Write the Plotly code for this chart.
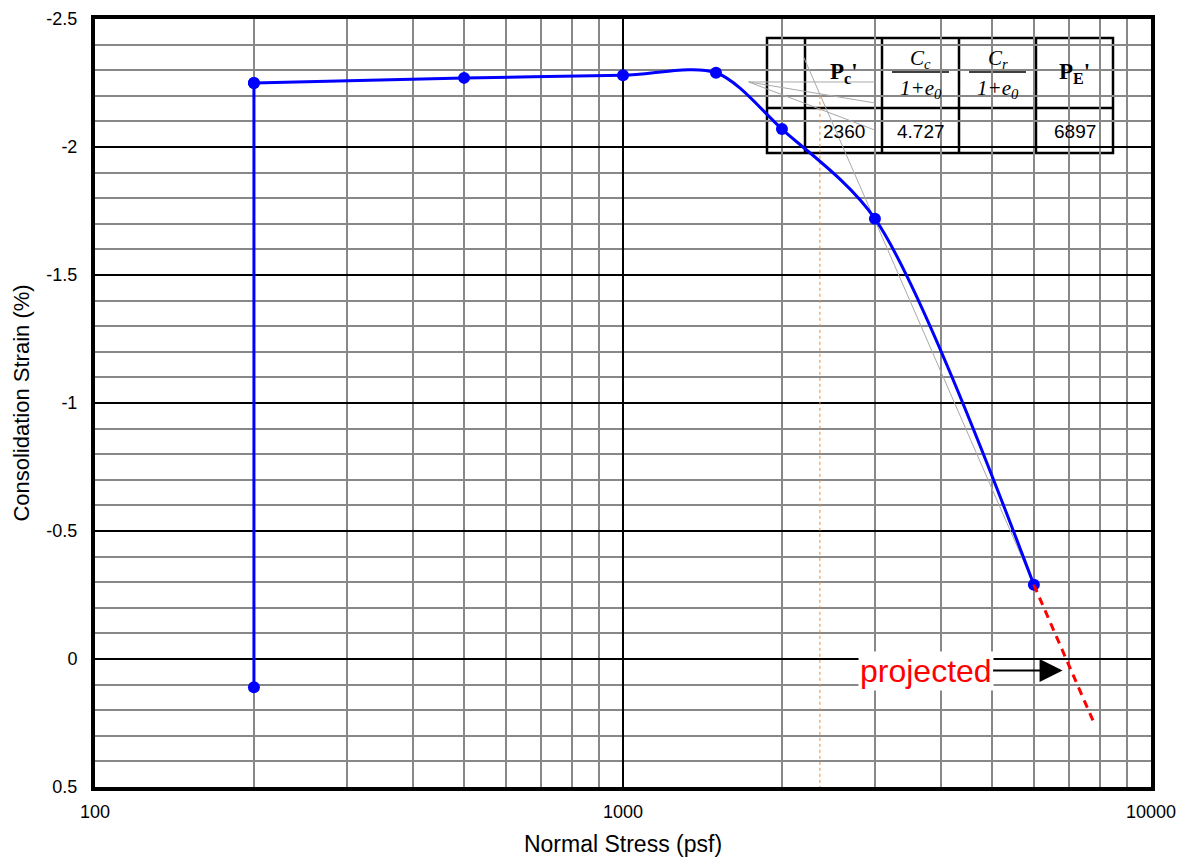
import math
import plotly.graph_objects as go

# Consolidation test readings: normal stress (psf) vs. consolidation strain (%)
stress = [200, 200, 500, 1000, 1500, 2000, 3000, 6000]
strain = [0.11, -2.25, -2.27, -2.28, -2.29, -2.07, -1.72, -0.29]

# Casagrande construction lines
constr_origin = (1730, -2.254)
constr_end_x = 3000
constr_end_y = [-2.254, -2.172, -2.066]   # horizontal, bisector, tangent
virgin_x = [2200, 6000]
virgin_y = [-2.35, -0.29]

# Results
pc_value = 2360
pc_line_y = [-2.20, 0.5]
cc_ratio = "4.727"
cr_ratio = ""
pe_value = 6897

# Projected virgin line past the last reading
proj_x = [6000, 6897, 7800]
proj_y = [-0.29, 0.0, 0.25]

x_ticks = [100, 1000, 10000]
x_ticktext = ["100", "1000", "10000"]
y_ticks = [-2.5, -2.0, -1.5, -1.0, -0.5, 0.0, 0.5]
y_ticktext = ["-2.5", "-2", "-1.5", "-1", "-0.5", "0", "0.5"]

FONT = "Liberation Sans, Arial, sans-serif"
SERIF = "Liberation Serif, Times New Roman, serif"

W, H = 1188, 861
ML, MR, MT, MB = 95, 37, 19, 74
PW, PH = W - ML - MR, H - MT - MB


def px(xp):
    return (xp - ML) / PW


def py(yp):
    return (H - MB - yp) / PH


fig = go.Figure()

# construction lines (thin grey)
for ye in constr_end_y:
    fig.add_trace(go.Scatter(x=[constr_origin[0], constr_end_x], y=[constr_origin[1], ye],
                             mode="lines", line=dict(color="#a8a8a8", width=1),
                             hoverinfo="skip", showlegend=False))
fig.add_trace(go.Scatter(x=virgin_x, y=virgin_y, mode="lines",
                         line=dict(color="#a8a8a8", width=1),
                         hoverinfo="skip", showlegend=False))

# preconsolidation pressure marker line
fig.add_trace(go.Scatter(x=[pc_value, pc_value], y=pc_line_y, mode="lines",
                         line=dict(color="#f08a30", width=1, dash="dot"),
                         hoverinfo="skip", showlegend=False))

# measured curve: initial vertical leg, then smooth curve
fig.add_trace(go.Scatter(x=stress[:2], y=strain[:2], mode="lines+markers",
                         line=dict(color="#0000ff", width=3),
                         marker=dict(color="#0000ff", size=12),
                         showlegend=False))
fig.add_trace(go.Scatter(x=stress[1:], y=strain[1:], mode="lines+markers",
                         line=dict(color="#0000ff", width=3, shape="spline", smoothing=0.85),
                         marker=dict(color="#0000ff", size=12),
                         showlegend=False))

# projected extension
fig.add_trace(go.Scatter(x=proj_x, y=proj_y, mode="lines",
                         line=dict(color="#ff0000", width=3, dash="8px,6px"),
                         hoverinfo="skip", showlegend=False))

# results table
col_px = [767, 805, 882, 959, 1036, 1113]
row_px = [38, 108, 153]
shapes = [dict(type="rect", xref="paper", yref="paper",
               x0=px(col_px[0]), x1=px(col_px[-1]), y0=py(row_px[-1]), y1=py(row_px[0]),
               fillcolor="white", line=dict(color="black", width=2.5), layer="between")]
for c in col_px[1:-1]:
    shapes.append(dict(type="line", xref="paper", yref="paper",
                       x0=px(c), x1=px(c), y0=py(row_px[-1]), y1=py(row_px[0]),
                       line=dict(color="black", width=2.5), layer="between"))
shapes.append(dict(type="line", xref="paper", yref="paper",
                   x0=px(col_px[0]), x1=px(col_px[-1]), y0=py(row_px[1]), y1=py(row_px[1]),
                   line=dict(color="black", width=2.5), layer="between"))
# fraction bars
for c0, c1 in [(col_px[2], col_px[3]), (col_px[3], col_px[4])]:
    shapes.append(dict(type="line", xref="paper", yref="paper",
                       x0=px(c0 + 10), x1=px(c1 - 10), y0=py(72), y1=py(72),
                       line=dict(color="black", width=1.5), layer="between"))

annotations = []


def cell_text(text, xc, yc, size, family, bold=False):
    annotations.append(dict(text=f"<b>{text}</b>" if bold else text,
                            xref="paper", yref="paper", x=px(xc), y=py(yc),
                            xanchor="center", yanchor="middle", showarrow=False,
                            font=dict(family=family, size=size, color="black")))


def mid(i):
    return (col_px[i] + col_px[i + 1]) / 2


cell_text("P<sub>c</sub>'", mid(1), 73, 23, SERIF, bold=True)
cell_text("<i>C<sub>c</sub></i>", mid(2), 59, 21, SERIF)
cell_text("<i>1+e<sub>0</sub></i>", mid(2), 89, 21, SERIF)
cell_text("<i>C<sub>r</sub></i>", mid(3), 59, 21, SERIF)
cell_text("<i>1+e<sub>0</sub></i>", mid(3), 89, 21, SERIF)
cell_text("P<sub>E</sub>'", mid(4), 73, 23, SERIF, bold=True)
cell_text(str(pc_value), mid(1), 131, 19, FONT)
cell_text(cc_ratio, mid(2), 131, 19, FONT)
cell_text(cr_ratio, mid(3), 131, 19, FONT)
cell_text(str(pe_value), mid(4), 131, 19, FONT)

# "projected" callout
annotations.append(dict(text="projected", x=math.log10(6800), y=0.045, xref="x", yref="y",
                        showarrow=True, arrowhead=2, arrowsize=2.3, arrowwidth=2,
                        arrowcolor="black", ax=-137, ay=0, axref="pixel", ayref="pixel",
                        bgcolor="white", borderpad=1,
                        font=dict(family=FONT, size=32, color="#ff0000")))

axis_common = dict(showline=True, mirror=True, linecolor="black", linewidth=4,
                   ticks="", zeroline=False, showgrid=True, automargin=False,
                   gridcolor="black", gridwidth=2,
                   tickfont=dict(family=FONT, size=18, color="black"))

fig.update_layout(
    width=W, height=H,
    margin=dict(l=ML, r=MR, t=MT, b=MB, pad=0),
    paper_bgcolor="white", plot_bgcolor="white",
    xaxis=dict(type="log", range=[2, 4], tickmode="array", tickvals=x_ticks,
               ticktext=x_ticktext, ticklabelstandoff=5,
               minor=dict(dtick="D1", showgrid=True, gridcolor="#888888", gridwidth=2, ticks=""),
               title=dict(text="Normal Stress (psf)", font=dict(family=FONT, size=23, color="black"),
                          standoff=16),
               **axis_common),
    yaxis=dict(range=[0.5, -2.5], tickmode="array", tickvals=y_ticks, ticktext=y_ticktext,
               ticklabelstandoff=10,
               minor=dict(tick0=0, dtick=0.1, showgrid=True, gridcolor="#888888", gridwidth=2, ticks=""),
               title=dict(text="Consolidation Strain (%)", font=dict(family=FONT, size=22, color="black"),
                          standoff=12),
               **axis_common),
    shapes=shapes,
    annotations=annotations,
)

fig.write_html("out.html")
